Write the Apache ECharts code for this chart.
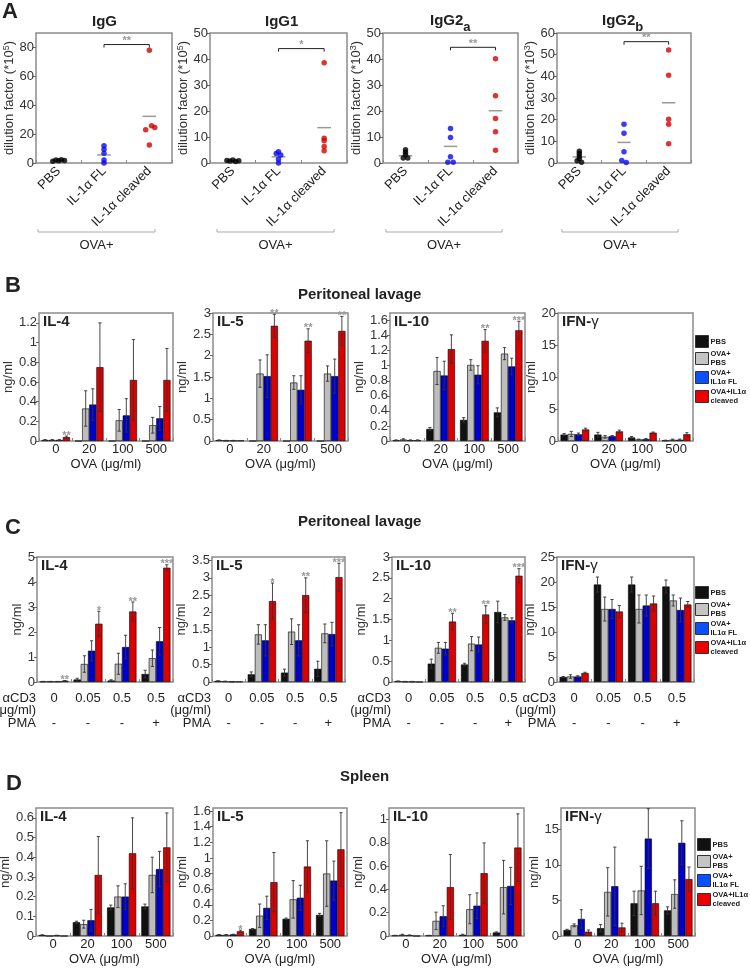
<!DOCTYPE html>
<html><head><meta charset="utf-8">
<script src="https://cdn.jsdelivr.net/npm/echarts@6/dist/echarts.min.js"></script>
<style>html,body{margin:0;padding:0;background:#fff}#c{width:750px;height:969px}</style>
</head><body><div id="c"></div><script>
// ===================== DATA =====================
// ---- Panel A : antibody titers (dot plots) ----
const aCategories = ['PBS', 'IL-1α FL', 'IL-1α cleaved'];
const IgG_vals  = [[1.2, 2.0, 1.5, 2.3, 1.8], [12, 9.5, 6.7, 2, 0], [78, 25.8, 24.6, 23, 12.5]];
const IgG_jit   = [[-0.13, -0.06, 0, 0.06, 0.13], [0, 0, 0, 0, 0], [0, 0.05, 0.12, -0.08, 0]];
const IgG_mean  = [1.8, 5.6, 32.3];
const IgG_sig   = [1, 2, 82, 2];
const IgG1_vals = [[1.0, 0.8, 1.2, 0.6, 0.9], [4.3, 3.7, 3.1, 1.4, 0], [38.6, 9.5, 8.6, 6.3, 4.7]];
const IgG1_jit  = [[-0.13, -0.06, 0, 0.06, 0.13], [0, -0.05, 0.05, 0, 0], [0, 0, 0, 0, 0]];
const IgG1_mean = [0.8, 2.4, 13.6];
const IgG1_sig  = [1, 2, 44, 1];
const IgG2a_vals = [[5.1, 4.1, 3.2, 1.9, 1.9], [13.3, 9.8, 2.4, 0.3, 0.3], [40.1, 25.9, 17.1, 12.0, 4.9]];
const IgG2a_jit  = [[0, 0, 0, -0.05, 0.05], [0, 0, 0, -0.06, 0.06], [0, 0, 0, 0, 0]];
const IgG2a_mean = [2.8, 6.4, 20.1];
const IgG2a_sig  = [1, 2, 44.5, 2];
const IgG2b_vals = [[5.4, 4.4, 3.2, 2.0, 1.0, 0.4], [17.9, 13.7, 5.2, 1.2, 0.2], [52.2, 40.5, 20.2, 17.9, 8.9]];
const IgG2b_jit  = [[0, 0, 0, 0, -0.05, 0.05], [0, 0, 0, -0.05, 0.05], [0, 0, 0, 0, 0]];
const IgG2b_mean = [2.8, 9.5, 27.8];
const IgG2b_sig  = [1, 2, 56, 2];

// ---- Bar panels: rows = PBS, OVA+PBS, OVA+IL1a FL, OVA+IL1a cleaved ----
const groupNames = ['PBS', 'OVA+\nPBS', 'OVA+\nIL1α FL', 'OVA+IL1α\ncleaved'];
const ovaCats = ['0', '20', '100', '500'];
const cd3Cats = ['0', '0.05', '0.5', '0.5'];
const pmaRow  = ['-', '-', '-', '+'];

// Panel B (peritoneal lavage, OVA restimulation)
const B_IL4_val = [[0.01, 0, 0, 0], [0.01, 0.33, 0.21, 0.16], [0.01, 0.37, 0.26, 0.23], [0.04, 0.75, 0.62, 0.62]];
const B_IL4_err = [[0.005, 0, 0, 0], [0.005, 0.18, 0.11, 0.08], [0.005, 0.16, 0.17, 0.12], [0.01, 0.45, 0.41, 0.32]];
const B_IL4_sig = [2, 0, 0, 0];
const B_IL5_val = [[0.02, 0, 0, 0], [0.01, 1.58, 1.37, 1.58], [0.01, 1.52, 1.2, 1.52], [0.01, 2.7, 2.35, 2.58]];
const B_IL5_err = [[0.005, 0, 0, 0], [0.005, 0.32, 0.16, 0.18], [0.005, 0.5, 0.33, 0.4], [0, 0.27, 0.28, 0.34]];
const B_IL5_sig = [0, 2, 2, 2];
const B_IL10_val = [[0.01, 0.16, 0.28, 0.38], [0.02, 0.93, 1.01, 1.16], [0.01, 0.87, 0.88, 0.99], [0.01, 1.22, 1.33, 1.47]];
const B_IL10_err = [[0.005, 0.02, 0.03, 0.06], [0.01, 0.18, 0.07, 0.08], [0.005, 0.19, 0.12, 0.11], [0.005, 0.19, 0.15, 0.12]];
const B_IL10_sig = [0, 0, 2, 3];
const B_IFN_val = [[1.0, 1.0, 0.55, 0.08], [1.1, 0.65, 0.25, 0.2], [1.05, 0.75, 0.3, 0.2], [1.8, 1.5, 1.3, 1.05]];
const B_IFN_err = [[0.15, 0.35, 0.15, 0.05], [0.4, 0.2, 0.05, 0.1], [0.2, 0.1, 0.1, 0.1], [0.2, 0.2, 0.1, 0.25]];
const B_IFN_sig = [0, 0, 0, 0];

// Panel C (peritoneal lavage, aCD3 / PMA restimulation)
const C_IL4_val = [[0.02, 0.1, 0.06, 0.32], [0.02, 0.72, 0.73, 0.95], [0.02, 1.25, 1.4, 1.63], [0.05, 2.33, 2.82, 4.57]];
const C_IL4_err = [[0.005, 0.05, 0.03, 0.15], [0.005, 0.33, 0.42, 0.33], [0.005, 0.4, 0.47, 0.55], [0.01, 0.5, 0.38, 0.12]];
const C_IL4_sig = [2, 1, 2, 3];
const C_IL5_val = [[0.03, 0.22, 0.27, 0.38], [0.02, 1.37, 1.45, 1.4], [0.01, 1.2, 1.2, 1.38], [0.01, 2.33, 2.5, 3.02]];
const C_IL5_err = [[0.005, 0.07, 0.1, 0.22], [0.005, 0.28, 0.37, 0.27], [0.005, 0.45, 0.45, 0.34], [0, 0.52, 0.5, 0.4]];
const C_IL5_sig = [0, 1, 2, 3];
const C_IL10_val = [[0.02, 0.44, 0.42, 1.68], [0.01, 0.82, 0.92, 1.55], [0.01, 0.8, 0.9, 1.48], [0, 1.45, 1.62, 2.55]];
const C_IL10_err = [[0.005, 0.11, 0.03, 0.26], [0.005, 0.13, 0.17, 0.07], [0.005, 0.15, 0.18, 0.06], [0, 0.2, 0.21, 0.17]];
const C_IL10_sig = [0, 2, 2, 3];
const C_IFN_val = [[1.0, 19.5, 19.5, 19.1], [1.1, 14.6, 14.6, 16.3], [1.1, 14.6, 15.3, 14.4], [1.8, 14.1, 15.7, 15.5]];
const C_IFN_err = [[0.1, 1.5, 1.5, 1.3], [0.35, 2.4, 2.8, 1.1], [0.15, 1.9, 2.1, 2.4], [0.15, 1.2, 1.5, 0.6]];
const C_IFN_sig = [0, 0, 0, 0];

// Panel D (spleen, OVA restimulation)
const D_IL4_val = [[0.005, 0.07, 0.145, 0.15], [0, 0.06, 0.2, 0.31], [0.003, 0.08, 0.2, 0.34], [0, 0.31, 0.42, 0.45]];
const D_IL4_err = [[0.001, 0.005, 0.012, 0.012], [0, 0.02, 0.055, 0.09], [0.001, 0.055, 0.065, 0.09], [0, 0.195, 0.18, 0.175]];
const D_IL4_sig = [0, 0, 0, 0];
const D_IL5_val = [[0.015, 0.09, 0.22, 0.27], [0.015, 0.26, 0.47, 0.8], [0.02, 0.36, 0.49, 0.71], [0.06, 0.69, 0.89, 1.11]];
const D_IL5_err = [[0.003, 0.005, 0.01, 0.02], [0.003, 0.15, 0.24, 0.42], [0.003, 0.15, 0.16, 0.25], [0.015, 0.38, 0.33, 0.47]];
const D_IL5_sig = [1, 0, 0, 0];
const D_IL10_val = [[0.005, 0.005, 0.01, 0.03], [0.01, 0.13, 0.23, 0.42], [0.007, 0.17, 0.26, 0.43], [0, 0.42, 0.54, 0.76]];
const D_IL10_err = [[0.001, 0.001, 0.005, 0.005], [0.005, 0.075, 0.125, 0.23], [0.002, 0.09, 0.11, 0.16], [0, 0.28, 0.26, 0.29]];
const D_IL10_sig = [0, 0, 0, 0];
const D_IFN_val = [[0.84, 1.1, 4.6, 3.6], [1.5, 6.2, 6.4, 5.9], [2.4, 7.0, 13.7, 13.1], [0.6, 1.2, 4.6, 8.0]];
const D_IFN_err = [[0.1, 0.5, 1.7, 0.5], [0.2, 3.4, 3.4, 2.0], [1.3, 5.5, 4.2, 3.1], [0.25, 0.6, 1.7, 1.7]];
const D_IFN_sig = [0, 0, 0, 0];

// ===================== STYLE / LAYOUT =====================
const FONT = '"Liberation Sans", Arial, Helvetica, sans-serif';
const barColors = ['#111111', '#bdbdbd', '#0000cc', '#dd0000'];
const legendColors = ['#111111', '#c4c4c4', '#0a50ff', '#ee0000'];
const dotColors = ['#000000', '#0a0aee', '#d40000'];
const GAP = 0.15;
const TXT = '#222';

const grids = [], xAxes = [], yAxes = [], series = [], titles = [], graphics = [];

function addTitle(text, left, top, size, rich) {
  titles.push({ text, left, top, padding: 0,
    textStyle: { fontSize: size, fontWeight: 'bold', color: TXT, fontFamily: FONT, rich: rich || {} } });
}

function errRender(params, api) {
  const c = api.value(0), v = api.value(1), e = api.value(2), s = api.value(3), st = api.value(4);
  const band = api.size([1, 0])[0];
  const bw = band * (1 - GAP) / 4;
  const x = api.coord([c, v])[0] + (s - 1.5) * bw;
  const yTop = api.coord([c, v + e])[1];
  const yBot = api.coord([c, Math.max(0, v - e)])[1];
  const ch = [];
  if (e > 0) {
    const cap = 1.6;
    const ls = { stroke: '#333', lineWidth: 0.9 };
    ch.push({ type: 'line', shape: { x1: x, y1: yTop, x2: x, y2: yBot }, style: ls });
    ch.push({ type: 'line', shape: { x1: x - cap, y1: yTop, x2: x + cap, y2: yTop }, style: ls });
    ch.push({ type: 'line', shape: { x1: x - cap, y1: yBot, x2: x + cap, y2: yBot }, style: ls });
  }
  if (st > 0) {
    ch.push({ type: 'text', style: { text: '*'.repeat(st), x: x, y: yTop - 6, align: 'center', verticalAlign: 'top',
      fill: '#999', fontSize: 11, fontFamily: FONT, fontWeight: 'bold' } });
  }
  return { type: 'group', children: ch };
}

function gridAt(box) {
  return { left: box[0], top: box[1], width: box[2], height: box[3], show: true,
    borderColor: '#8c8c8c', borderWidth: 1.5, containLabel: false, outerBoundsMode: 'none' };
}

function addBarChart(box, kind, vals, errs, sig, max, interval, title, nameGap) {
  const gi = grids.length;
  grids.push(gridAt(box));
  const x = { gridIndex: gi, type: 'category', data: kind === 'cd3' ? cd3Cats : ovaCats,
    axisLine: { show: false, onZero: false }, splitLine: { show: false },
    axisTick: { show: true, inside: true, length: 3, lineStyle: { color: '#888' } } };
  if (kind === 'cd3') {
    x.axisLabel = { interval: 0, fontSize: 13, color: TXT, margin: 10, lineHeight: 12.5, fontFamily: FONT,
      formatter: (v, i) => v + '\n\n' + pmaRow[i] };
    x.name = 'αCD3\n(μg/ml)\nPMA';
    x.nameLocation = 'start';
    x.nameGap = 1;
    x.nameMoveOverlap = false;
    x.nameTextStyle = { fontSize: 13, color: TXT, align: 'right', verticalAlign: 'top', lineHeight: 12.5,
      padding: [10, 0, 0, 0], fontFamily: FONT };
  } else {
    x.axisLabel = { interval: 0, fontSize: 13, color: TXT, margin: 2, fontFamily: FONT };
    x.name = 'OVA (μg/ml)';
    x.nameLocation = 'middle';
    x.nameGap = 17;
    x.nameTextStyle = { fontSize: 13, color: TXT, fontFamily: FONT };
  }
  xAxes.push(x);
  const r = max / interval;
  yAxes.push({ gridIndex: gi, type: 'value', min: 0, max: max, interval: interval,
    axisLine: { show: false, onZero: false }, splitLine: { show: false },
    axisTick: { show: true, length: 3, lineStyle: { color: '#666' } },
    axisLabel: { fontSize: 13, color: '#333', margin: 2, fontFamily: FONT,
      showMaxLabel: Math.abs(r - Math.round(r)) < 1e-6 },
    name: 'ng/ml', nameLocation: 'middle', nameGap: nameGap,
    nameTextStyle: { fontSize: 13, color: '#333', fontFamily: FONT } });
  const xi = xAxes.length - 1, yi = yAxes.length - 1;
  vals.forEach((row, s) => {
    series.push({ type: 'bar', name: groupNames[s], xAxisIndex: xi, yAxisIndex: yi, data: row,
      barGap: '0%', barCategoryGap: (GAP * 100) + '%', silent: true,
      itemStyle: { color: barColors[s], borderColor: '#000', borderWidth: 0.6 } });
  });
  const ed = [];
  vals.forEach((row, s) => row.forEach((v, c) => ed.push([c, v, errs[s][c], s, s === 3 ? sig[c] : 0])));
  series.push({ type: 'custom', xAxisIndex: xi, yAxisIndex: yi, data: ed, renderItem: errRender, z: 5, silent: true, clip: false });
  if (title === 'IFN') {
    addTitle('IFN-{g|γ}', box[0] + 4, box[1] + 1, 15, { g: { fontSize: 15, fontWeight: 'normal', color: TXT, fontFamily: FONT } });
  } else {
    addTitle(title, box[0] + 4, box[1] + 1, 15);
  }
}

function meanRender(p, api) {
  const g = api.value(0), m = api.value(1);
  const a = api.coord([g - 0.15, m]), b = api.coord([g + 0.15, m]);
  return { type: 'line', shape: { x1: a[0], y1: a[1], x2: b[0], y2: b[1] }, style: { stroke: '#9a9a9a', lineWidth: 1.5 } };
}
function sigRender(p, api) {
  const f = api.value(0), t = api.value(1), y = api.value(2), n = api.value(3);
  const a = api.coord([f, y]), b = api.coord([t, y]);
  return { type: 'group', children: [
    { type: 'polyline', shape: { points: [[a[0], a[1] + 3], [a[0], a[1]], [b[0], b[1]], [b[0], b[1] + 3]] },
      style: { stroke: '#222', lineWidth: 1, fill: 'none' } },
    { type: 'text', style: { text: '*'.repeat(n), x: (a[0] + b[0]) / 2, y: a[1] - 9, align: 'center', verticalAlign: 'top',
      fill: '#999', fontSize: 11, fontWeight: 'bold', fontFamily: FONT } }
  ] };
}

function addDotChart(box, vals, jit, mean, sig, max, interval, exp, bracket, nameGap) {
  const gi = grids.length;
  grids.push(gridAt(box));
  xAxes.push({ gridIndex: gi, type: 'category', data: aCategories, axisLine: { show: false, onZero: false },
    axisTick: { show: true, inside: true, length: 3, lineStyle: { color: '#888' } },
    axisLabel: { interval: 0, rotate: 45, fontSize: 13, color: TXT, margin: 6, fontFamily: FONT } });
  xAxes.push({ gridIndex: gi, type: 'value', min: -0.5, max: 2.5, show: false, axisLine: { onZero: false } });
  const xv = xAxes.length - 1;
  const r = max / interval;
  yAxes.push({ gridIndex: gi, type: 'value', min: 0, max: max, interval: interval,
    axisLine: { show: false, onZero: false }, splitLine: { show: false },
    axisTick: { show: true, length: 3, lineStyle: { color: '#666' } },
    axisLabel: { fontSize: 13, color: '#333', margin: 2, fontFamily: FONT, showMaxLabel: Math.abs(r - Math.round(r)) < 1e-6 },
    name: '{a|dilution factor (*10}{s|' + exp + '}{a|)}', nameLocation: 'middle', nameGap: nameGap,
    nameTextStyle: { rich: { a: { fontSize: 13, color: '#333', fontFamily: FONT, lineHeight: 15 },
      s: { fontSize: 9, color: '#333', fontFamily: FONT, verticalAlign: 'top', lineHeight: 9 } } } });
  const yi = yAxes.length - 1;
  vals.forEach((g, gIdx) => {
    series.push({ type: 'scatter', xAxisIndex: xv, yAxisIndex: yi, symbolSize: 5.5, silent: true,
      itemStyle: { color: dotColors[gIdx] },
      data: g.map((v, i) => [gIdx + jit[gIdx][i], v]) });
  });
  series.push({ type: 'custom', xAxisIndex: xv, yAxisIndex: yi, data: mean.map((m, g) => [g, m]), renderItem: meanRender, z: 1, silent: true });
  series.push({ type: 'custom', xAxisIndex: xv, yAxisIndex: yi, data: [sig], renderItem: sigRender, z: 3, silent: true, clip: false });
  const y0 = 232;
  graphics.push({ type: 'polyline', shape: { points: [[bracket[0], y0 - 3], [bracket[0], y0], [bracket[1], y0], [bracket[1], y0 - 3]] },
    style: { stroke: '#aaa', lineWidth: 1, fill: 'none' }, silent: true });
  graphics.push({ type: 'text', x: (bracket[0] + bracket[1]) / 2, y: 245,
    style: { text: 'OVA+', align: 'center', verticalAlign: 'middle', fill: TXT, fontSize: 13, fontFamily: FONT }, silent: true });
}

// ---------- Panel A ----------
addTitle('A', 2, 1, 22);
addDotChart([36, 33, 136, 130], IgG_vals, IgG_jit, IgG_mean, IgG_sig, 90, 20, 5, [38, 155], 15);
addDotChart([210, 33, 137, 130], IgG1_vals, IgG1_jit, IgG1_mean, IgG1_sig, 50, 10, 5, [217, 334], 15);
addDotChart([383, 33, 135, 130], IgG2a_vals, IgG2a_jit, IgG2a_mean, IgG2a_sig, 50, 10, 3, [386, 502], 15);
addDotChart([557, 33, 134, 130], IgG2b_vals, IgG2b_jit, IgG2b_mean, IgG2b_sig, 60, 10, 3, [562, 678], 17);
addTitle('IgG', 92, 14, 15);
addTitle('IgG1', 265, 14, 15);
const subRich = { m: { fontSize: 15, fontWeight: 'bold', color: TXT, fontFamily: FONT, lineHeight: 18, verticalAlign: 'top' },
  s: { fontSize: 13, fontWeight: 'bold', color: TXT, fontFamily: FONT, lineHeight: 21, verticalAlign: 'bottom' } };
addTitle('{m|IgG2}{s|a}', 430, 13, 15, subRich);
addTitle('{m|IgG2}{s|b}', 602, 13, 15, subRich);

// ---------- Panel B ----------
addTitle('B', 5, 275, 22);
addTitle('Peritoneal lavage', 298, 287, 15);
addBarChart([39, 313, 134, 128], 'ova', B_IL4_val, B_IL4_err, B_IL4_sig, 1.3, 0.2, 'IL-4', 19);
addBarChart([213, 313, 135, 128], 'ova', B_IL5_val, B_IL5_err, B_IL5_sig, 3, 0.5, 'IL-5', 20);
addBarChart([390, 313, 135, 128], 'ova', B_IL10_val, B_IL10_err, B_IL10_sig, 1.7, 0.2, 'IL-10', 20);
addBarChart([558, 313, 135, 128], 'ova', B_IFN_val, B_IFN_err, B_IFN_sig, 20, 5, 'IFN', 12);

// ---------- Panel C ----------
addTitle('C', 5, 517, 22);
addTitle('Peritoneal lavage', 298, 514, 15);
addBarChart([37, 557, 136, 125], 'cd3', C_IL4_val, C_IL4_err, C_IL4_sig, 5, 1, 'IL-4', 12);
addBarChart([212, 557, 133, 125], 'cd3', C_IL5_val, C_IL5_err, C_IL5_sig, 3.6, 0.5, 'IL-5', 19);
addBarChart([392, 557, 133, 125], 'cd3', C_IL10_val, C_IL10_err, C_IL10_sig, 3, 0.5, 'IL-10', 22);
addBarChart([557, 557, 137, 125], 'cd3', C_IFN_val, C_IFN_err, C_IFN_sig, 25, 5, 'IFN', 11);

// ---------- Panel D ----------
addTitle('D', 6, 773, 22);
addTitle('Spleen', 340, 769, 15);
addBarChart([36, 808, 137, 128], 'ova', D_IL4_val, D_IL4_err, D_IL4_sig, 0.65, 0.1, 'IL-4', 22);
addBarChart([213, 808, 134, 128], 'ova', D_IL5_val, D_IL5_err, D_IL5_sig, 1.64, 0.2, 'IL-5', 20);
addBarChart([389, 808, 135, 128], 'ova', D_IL10_val, D_IL10_err, D_IL10_sig, 1.1, 0.2, 'IL-10', 19);
addBarChart([561, 808, 134, 128], 'ova', D_IFN_val, D_IFN_err, D_IFN_sig, 18, 5, 'IFN', 14);

// ---------- legends ----------
function legendAt(left, top) {
  return { left, top, orient: 'vertical', itemWidth: 13, itemHeight: 12, itemGap: 2, icon: 'rect',
    selectedMode: false, padding: 0,
    itemStyle: { borderColor: '#333', borderWidth: 1 },
    textStyle: { fontSize: 7.5, fontWeight: 'bold', color: TXT, lineHeight: 8.5, fontFamily: FONT, padding: [0, 0, 0, -3] },
    data: groupNames.map((n, i) => ({ name: n, itemStyle: { color: legendColors[i], borderColor: '#333', borderWidth: 1 } })) };
}

const chart = echarts.init(document.getElementById('c'), null, { renderer: 'canvas' });
chart.setOption({
  animation: false,
  backgroundColor: '#fff',
  textStyle: { fontFamily: FONT },
  title: titles,
  grid: grids,
  xAxis: xAxes,
  yAxis: yAxes,
  legend: [legendAt(695, 335), legendAt(695, 586), legendAt(697, 838)],
  series: series,
  graphic: graphics
});
</script></body></html>
